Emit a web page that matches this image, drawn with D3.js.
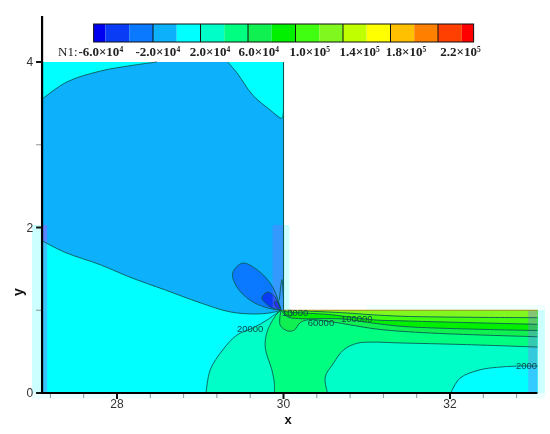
<!DOCTYPE html>
<html><head><meta charset="utf-8">
<script src="https://cdn.jsdelivr.net/npm/d3@7"></script>
<style>
html,body{margin:0;padding:0;background:#fff}
svg{display:block;filter:blur(0.35px)}
</style></head><body>
<svg id="c" width="550" height="434"></svg>
<script>
// colour levels (N1)
const levels=[-70000,-60000,-40000,-20000,0,20000,40000,60000,80000,100000,120000,140000,160000,180000,200000,220000,240000,250000];
const levelColors=["#0000f0","#0a3cf5","#0a78ff","#0cb0fb","#00ffff","#00ffc8","#00ff80","#10f050","#00f000","#40ff10","#80f820","#c0ff00","#ffff00","#ffc000","#ff8000","#ff4000","#ff0000"];
const majorLevels=[-20000,20000,60000,100000,140000,180000,220000];
const legendLabels=[["-6.0","4"],["-2.0","4"],["2.0","4"],["6.0","4"],["1.0","5"],["1.4","5"],["1.8","5"],["2.2","5"]];
const legendLabelValues=[-64000,-16000,28000,69000,112000,154000,193000,239000];
const xMajor=[28,30,32];
const xMinor=[27.2,27.6,28,28.4,28.8,29.2,29.6,30,30.4,30.8,31.2,31.6,32,32.4,32.8];
const yMajor=[0,2,4];
const yMinor=[1,3];

// geometry and contours, in x / y data units
const corner=[29.97,1.0];
const contourTopLeft=[[27.10,3.55],[27.40,3.76],[27.80,3.89],[28.19,3.96],[28.48,4.0]];
const contourTopRight=[[29.33,4.0],[29.44,3.87],[29.63,3.60],[29.84,3.42],[29.98,3.32],[30.0,3.45]];
const contourNeg=[[27.10,1.84],[27.375,1.70],[27.80,1.55],[28.155,1.40],[28.58,1.245],[29.0,1.09],[29.36,0.98],[29.66,0.955],[29.85,0.97],corner];
const contour20Left=[[29.07,0],[29.12,0.28],[29.27,0.52],[29.44,0.70],[29.63,0.785],[29.80,0.88],[29.92,0.967],corner];
const contour20Right=[[32.01,0],[32.12,0.18],[32.36,0.28],[32.56,0.31],[32.80,0.325],[33.05,0.325]];
const contour40Left=[[29.89,0],[29.89,0.12],[29.86,0.28],[29.78,0.555],[29.81,0.76],[29.93,0.967],corner];
const contour40Right=[[30.53,0],[30.50,0.19],[30.60,0.36],[30.72,0.52],[30.88,0.60],[31.07,0.615],[31.40,0.605],[32.2,0.585],[33.05,0.555]];
const contour60=[corner,[29.96,0.82],[30.05,0.75],[30.13,0.76],[30.20,0.85],[30.30,0.885],[30.58,0.86],[30.82,0.82],[31.14,0.77],[31.76,0.725],[33.05,0.68]];
const contour80=[corner,[30.05,0.92],[30.18,0.90],[30.71,0.895],[31.07,0.845],[31.5,0.80],[33.05,0.755]];
const contour100=[corner,[30.02,0.985],[30.58,0.945],[31.07,0.885],[31.5,0.87],[33.05,0.83]];
const contour120=[[30.05,1.0],[30.71,0.97],[31.07,0.945],[31.5,0.925],[33.05,0.91]];
const lobeA=[corner,[29.80,1.03],[29.60,1.12],[29.44,1.28],[29.39,1.45],[29.51,1.57],[29.72,1.46],[29.87,1.28],[29.96,1.04],corner];
const lobeB=[corner,[29.86,1.03],[29.78,1.09],[29.74,1.15],[29.81,1.22],[29.90,1.16],corner];
const lobeC=[corner,[29.91,1.04],[29.89,1.10],[29.92,1.11],corner];
const spike=[[29.95,1.12],[29.98,1.37],[30.0,1.15]];
const bubble=[[30.0,0.98],[30.06,0.93],[30.12,0.95],[30.08,0.985]];
const domainTop=4, domainStep=1, xLeft=27.1, xWall=30, xRight=33.05;

const x=d3.scaleLinear().domain([28,32]).range([117,450]);
const y=d3.scaleLinear().domain([0,4]).range([393,62]);
const lx=d3.scaleLinear().domain([-20000,220000]).range([153,438]);
const svg=d3.select("#c");
const curve=d3.line().x(d=>x(d[0])).y(d=>y(d[1])).curve(d3.curveCatmullRom.alpha(0.5));
const straight=d3.line().x(d=>x(d[0])).y(d=>y(d[1]));
const edge=a=>{const b=a.slice();b.edge=true;return b;};
function region(...segs){
  return segs.map(s=>s.edge?straight(s):curve(s)).join("").replace(/(?!^)M/g,"L")+"Z";
}
const rev=a=>a.slice().reverse();
const color=v=>levelColors[levels.findIndex((l,i)=>v>=l&&v<levels[i+1])];
const main=svg.append("g");
const fill=(d,v)=>main.append("path").attr("d",d).attr("fill",color(v)).attr("stroke","none");

// artefact bands behind the field
const pale="#ccffff";
const band=(x0,x1,y0,y1,f,o)=>main.append("rect").attr("x",x(x0)).attr("width",x(x1)-x(x0))
  .attr("y",y(y1)).attr("height",y(y0)-y(y1)).attr("fill",f).attr("opacity",o);
band(26.98,xLeft,-0.07,2.03,pale,1);
band(26.98,33.14,-0.07,0,"#eeffff",1);
band(xWall,30.07,1,2.03,pale,1);
band(xRight,33.14,0,1.06,pale,1);
band(31,33.14,1,1.06,"#f2ffff",1);

// field
fill(straight([[xLeft,0],[xLeft,domainTop],[xWall,domainTop],[xWall,domainStep],[xRight,domainStep],[xRight,0]])+"Z",10000);
fill(region(contourNeg,edge([corner,[xWall,1.0],[xWall,3.32]]),rev(contourTopRight).slice(1),edge([[29.33,4],[28.48,4]]),rev(contourTopLeft)),-10000);
fill(region(contour20Left,edge([corner,[xWall,domainStep],[xRight,domainStep],[xRight,0],[29.07,0]])),30000);
fill(region(contour20Right,edge([[xRight,0.325],[xRight,0]])),10000);
fill(region(contour40Left,edge([corner,[xWall,domainStep],[xRight,domainStep],[xRight,0.555]]),rev(contour40Right)),50000);
fill(region(contour60,edge([[xRight,0.68],[xRight,domainStep],[xWall,domainStep],corner])),70000);
fill(region(contour80,edge([[xRight,0.755],[xRight,domainStep],[xWall,domainStep],corner])),90000);
fill(region(contour100,edge([[xRight,0.83],[xRight,domainStep],[xWall,domainStep],corner])),110000);
fill(region(contour120,edge([[xRight,0.91],[xRight,domainStep],[30.05,domainStep]])),130000);
fill(region(lobeA),-30000);
fill(region(lobeB),-50000);
fill(region(lobeC),-65000);

// semi-transparent bands on the field
band(xLeft,27.16,1.84,2.03,"#9a60ff",0.55);
band(xLeft,27.16,0,1.84,"#8a70ff",0.42);
band(29.87,xWall,1.0,2.03,"#7a70ff",0.38);
band(32.94,xRight,0,domainStep,"#8a70ff",0.38);

// contour lines
const lineCol="#0b5a55";
[contourTopLeft,contourTopRight,contourNeg,contour20Left,contour20Right,contour40Left,contour40Right,contour60,contour80,contour100,contour120,lobeA,lobeB,lobeC,spike,bubble].forEach(c=>{
  main.append("path").attr("d",curve(c)).attr("fill","none").attr("stroke",lineCol).attr("stroke-width",0.9);
});
main.append("path").attr("d",straight([[xWall,domainTop],[xWall,domainStep]])).attr("fill","none").attr("stroke",lineCol).attr("stroke-width",1.1);
main.append("path").attr("d",straight([[xWall,domainStep],[xRight,domainStep]])).attr("fill","none").attr("stroke","#a89020").attr("stroke-width",1);

// contour labels
const clabels=[["20000",29.6,0.78],["60000",30.45,0.85],["100000",30.88,0.90],["10000",30.14,0.97],["2000",32.92,0.325]];
svg.append("g").selectAll("text").data(clabels).join("text")
  .attr("x",d=>x(d[1])).attr("y",d=>y(d[2])).attr("dy","0.35em").attr("text-anchor","middle")
  .attr("font-family","Liberation Sans").attr("font-size",9.5).attr("fill","#0d4a4a").text(d=>d[0]);

// colour bar
const legend=svg.append("g");
const barTop=24, barH=18;
legend.selectAll("rect.c").data(levelColors).join("rect").attr("class","c")
  .attr("x",(d,i)=>lx(levels[i])).attr("width",(d,i)=>lx(levels[i+1])-lx(levels[i]))
  .attr("y",barTop).attr("height",barH).attr("fill",d=>d);
legend.selectAll("line").data(majorLevels).join("line")
  .attr("x1",d=>lx(d)).attr("x2",d=>lx(d)).attr("y1",barTop).attr("y2",barTop+barH).attr("stroke","#111").attr("stroke-width",1);
legend.append("rect").attr("x",lx(-70000)).attr("width",lx(250000)-lx(-70000)).attr("y",barTop).attr("height",barH)
  .attr("fill","none").attr("stroke","#111").attr("stroke-width",1);
const serif="Liberation Serif";
legend.append("text").attr("x",58).attr("y",56).attr("font-family",serif).attr("font-size",13).attr("fill","#222").text("N1:");
const lt=legend.selectAll("text.l").data(legendLabels).join("text").attr("class","l")
  .attr("x",(d,i)=>lx(legendLabelValues[i])).attr("y",56).attr("text-anchor","middle")
  .attr("font-family",serif).attr("font-weight","bold").attr("font-size",13).attr("fill","#222");
lt.append("tspan").text(d=>d[0]+"×10");
lt.append("tspan").attr("dy",-4).attr("font-size",7.5).text(d=>d[1]);

// axes
const axisX=svg.append("g");
const sans="Liberation Sans";
axisX.selectAll("line.m").data(xMinor).join("line").attr("class","m")
  .attr("x1",d=>x(d)).attr("x2",d=>x(d)).attr("y1",393).attr("y2",398).attr("stroke","#777").attr("stroke-width",0.8);
axisX.selectAll("line.M").data(xMajor).join("line").attr("class","M")
  .attr("x1",d=>x(d)).attr("x2",d=>x(d)).attr("y1",393).attr("y2",399).attr("stroke","#111").attr("stroke-width",2);
axisX.append("line").attr("x1",x(xLeft)-1).attr("x2",x(xRight)).attr("y1",393).attr("y2",393).attr("stroke","#000").attr("stroke-width",2.2);
axisX.selectAll("text.t").data(xMajor).join("text").attr("class","t")
  .attr("x",d=>x(d)).attr("y",408).attr("text-anchor","middle").attr("font-family",sans).attr("font-size",12).attr("fill","#333").text(d=>d);
axisX.append("text").attr("x",288).attr("y",424).attr("text-anchor","middle").attr("font-family",sans).attr("font-weight","bold").attr("font-size",13).attr("fill","#111").text("x");
const axisY=svg.append("g");
const axisLeft=x(xLeft);
axisY.selectAll("line.m").data(yMinor).join("line").attr("class","m")
  .attr("y1",d=>y(d)).attr("y2",d=>y(d)).attr("x1",axisLeft-6).attr("x2",axisLeft).attr("stroke","#777").attr("stroke-width",0.8);
axisY.selectAll("line.M").data(yMajor).join("line").attr("class","M")
  .attr("y1",d=>y(d)).attr("y2",d=>y(d)).attr("x1",axisLeft-6).attr("x2",axisLeft).attr("stroke","#111").attr("stroke-width",2);
axisY.append("line").attr("x1",axisLeft).attr("x2",axisLeft).attr("y1",394).attr("y2",16).attr("stroke","#000").attr("stroke-width",2.2);
axisY.selectAll("text.t").data(yMajor).join("text").attr("class","t")
  .attr("x",axisLeft-9).attr("y",d=>y(d)).attr("dy","0.36em").attr("text-anchor","end").attr("font-family",sans).attr("font-size",12).attr("fill","#333").text(d=>d);
axisY.append("text").attr("transform","translate(23,292) rotate(-90)").attr("text-anchor","middle")
  .attr("font-family",sans).attr("font-weight","bold").attr("font-size",14).attr("fill","#111").text("y");
</script>
</body></html>
